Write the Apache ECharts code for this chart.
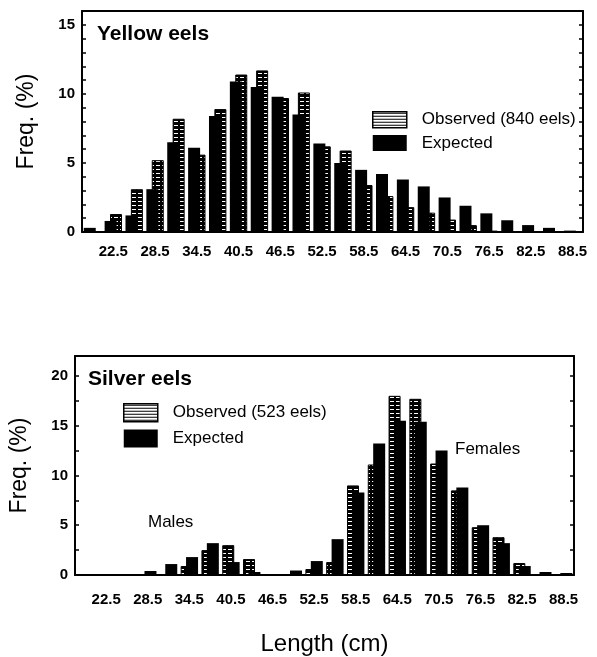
<!DOCTYPE html>
<html>
<head>
<meta charset="utf-8">
<script src="https://cdn.jsdelivr.net/npm/echarts@6/dist/echarts.min.js"></script>
<style>
  html, body { margin: 0; padding: 0; background: #fff; }
  #chart { width: 597px; height: 657px; }
</style>
</head>
<body>
<div id="chart"></div>
<script>
  // length classes (cm), every 3 cm
  var lengths = ['19.5', '22.5', '25.5', '28.5', '31.5', '34.5', '37.5', '40.5', '43.5', '46.5', '49.5', '52.5',
                 '55.5', '58.5', '61.5', '64.5', '67.5', '70.5', '73.5', '76.5', '79.5', '82.5', '85.5', '88.5'];

  // yellow eels, frequency %
  var yellowObserved = [0, 1.3, 3.1, 5.2, 8.2, 5.6, 8.9, 11.4, 11.7, 9.7, 10.1, 6.2,
                        5.9, 3.4, 2.6, 1.8, 1.4, 0.9, 0.5, 0.1, 0, 0, 0, 0];
  var yellowExpected = [0.3, 0.8, 1.2, 3.1, 6.5, 6.1, 8.4, 10.9, 10.5, 9.8, 8.5, 6.4,
                        5.0, 4.5, 4.2, 3.8, 3.3, 2.5, 1.9, 1.35, 0.85, 0.5, 0.3, 0.1];

  // silver eels, frequency %
  var silverObserved = [0, 0, 0, 0, 0, 0.9, 2.5, 3.0, 1.6, 0.1, 0.1, 0.6,
                        1.3, 9.0, 11.1, 18.0, 17.7, 11.2, 8.5, 4.8, 3.8, 1.2, 0, 0];
  var silverExpected = [0, 0, 0, 0.4, 1.1, 1.8, 3.2, 1.3, 0.3, 0.1, 0.45, 1.4,
                        3.6, 8.3, 13.2, 15.5, 15.4, 12.5, 8.8, 5.0, 3.2, 0.9, 0.3, 0.2];

  var yellowTicks = [0, 5, 10, 15];
  var silverTicks = [0, 5, 10, 15, 20];

  // hatch fill: horizontal dashes
  function makeHatch(bg, fg, w, h, dash) {
    var c = document.createElement('canvas');
    c.width = w; c.height = h;
    var ctx = c.getContext('2d');
    ctx.fillStyle = bg;
    ctx.fillRect(0, 0, w, h);
    ctx.fillStyle = fg;
    ctx.fillRect(0, 1, dash, 1);
    return { image: c, repeat: 'repeat' };
  }
  var barHatch = makeHatch('#000', '#fff', 6, 4, 4);
  var legendHatch = makeHatch('#fff', '#000', 4, 3, 4);

  var everyOther = function (i) { return i % 2 === 1; };
  var ff = 'Liberation Sans';

  function xAxes(gridIndex, withName) {
    var bottom = {
      type: 'category', gridIndex: gridIndex, position: 'bottom', data: lengths,
      axisLine: { onZero: false, lineStyle: { color: '#000', width: 2 } },
      axisTick: { inside: true, length: 5, alignWithLabel: true, interval: everyOther, lineStyle: { color: '#000', width: 1.5 } },
      axisLabel: { interval: everyOther, color: '#000', fontSize: 15, fontWeight: 'bold', fontFamily: ff, margin: gridIndex === 0 ? 12 : 17 }
    };
    if (withName) {
      bottom.name = 'Length (cm)';
      bottom.nameLocation = 'middle';
      bottom.nameGap = 57;
      bottom.nameTextStyle = { color: '#000', fontSize: 24, fontFamily: ff };
    }
    var top = {
      type: 'category', gridIndex: gridIndex, position: 'top', data: lengths,
      axisLine: { onZero: false, lineStyle: { color: '#000', width: 2 } },
      axisTick: { inside: true, length: 5, alignWithLabel: true, interval: everyOther, lineStyle: { color: '#000', width: 1.5 } },
      axisLabel: { show: false }
    };
    return [bottom, top];
  }

  function yAxes(gridIndex, max, minor, labels) {
    var left = {
      type: 'value', gridIndex: gridIndex, position: 'left', min: 0, max: max, interval: minor,
      name: 'Freq. (%)', nameLocation: 'middle', nameGap: 44, nameRotate: 90,
      nameTextStyle: { color: '#000', fontSize: 23, fontFamily: ff },
      splitLine: { show: false },
      axisLine: { show: true, onZero: false, lineStyle: { color: '#000', width: 2 } },
      axisTick: { show: true, inside: true, length: 4, lineStyle: { color: '#000', width: 1.5 } },
      axisLabel: {
        color: '#000', fontSize: 15, fontWeight: 'bold', fontFamily: ff, margin: 7,
        formatter: function (v) { return labels.indexOf(v) >= 0 ? String(v) : ''; }
      }
    };
    var right = {
      type: 'value', gridIndex: gridIndex, position: 'right', min: 0, max: max, interval: minor,
      splitLine: { show: false },
      axisLine: { show: true, onZero: false, lineStyle: { color: '#000', width: 2 } },
      axisTick: { show: true, inside: true, length: 4, lineStyle: { color: '#000', width: 1.5 } },
      axisLabel: { show: false }
    };
    return [left, right];
  }

  function obsSeries(name, data, xi, yi) {
    return {
      name: name, type: 'bar', xAxisIndex: xi, yAxisIndex: yi, data: data,
      barWidth: 12, barGap: '-55%', z: 2,
      itemStyle: { color: barHatch, borderColor: '#000', borderWidth: 1 }
    };
  }
  function expSeries(data, xi, yi) {
    return {
      name: 'Expected', type: 'bar', xAxisIndex: xi, yAxisIndex: yi, data: data,
      barWidth: 12, barGap: '-55%', z: 3,
      itemStyle: { color: '#000' }
    };
  }

  function legendFor(obsName, left, top, h, gap) {
    return {
      orient: 'vertical', left: left, top: top, itemWidth: 34, itemHeight: h, itemGap: gap,
      icon: 'rect',
      textStyle: { color: '#000', fontSize: 17, fontFamily: ff, padding: [0, 0, 0, 10] },
      data: [
        { name: obsName, icon: 'rect', itemStyle: { color: legendHatch, borderColor: '#000', borderWidth: 1.5 } },
        { name: 'Expected', icon: 'rect', itemStyle: { color: '#000' } }
      ]
    };
  }

  var chart = echarts.init(document.getElementById('chart'), null, { renderer: 'canvas' });
  chart.setOption({
    backgroundColor: '#fff',
    animation: false,
    textStyle: { fontFamily: ff },
    grid: [
      { left: 82, top: 11, width: 501, height: 221 },
      { left: 72, top: 356, width: 502, height: 221 }
    ],
    xAxis: xAxes(0, false).concat(xAxes(1, true)),
    yAxis: yAxes(0, 16, 1, yellowTicks).concat(yAxes(1, 22, 2.5, silverTicks)),
    legend: [
      legendFor('Observed (840 eels)', 367, 106, 16, 6),
      legendFor('Observed (523 eels)', 118, 398, 18, 7)
    ],
    graphic: [
      { type: 'text', left: 97, top: 24, style: { text: 'Yellow eels', fill: '#000', font: 'bold 21px "Liberation Sans"' } },
      { type: 'text', left: 88, top: 369, style: { text: 'Silver eels', fill: '#000', font: 'bold 21px "Liberation Sans"' } },
      { type: 'text', left: 148, top: 514, style: { text: 'Males', fill: '#000', font: '17px "Liberation Sans"' } },
      { type: 'text', left: 455, top: 441, style: { text: 'Females', fill: '#000', font: '17px "Liberation Sans"' } }
    ],
    series: [
      expSeries(yellowExpected, 0, 0),
      obsSeries('Observed (840 eels)', yellowObserved, 0, 0),
      obsSeries('Observed (523 eels)', silverObserved, 2, 2),
      expSeries(silverExpected, 2, 2)
    ]
  });
</script>
</body>
</html>
